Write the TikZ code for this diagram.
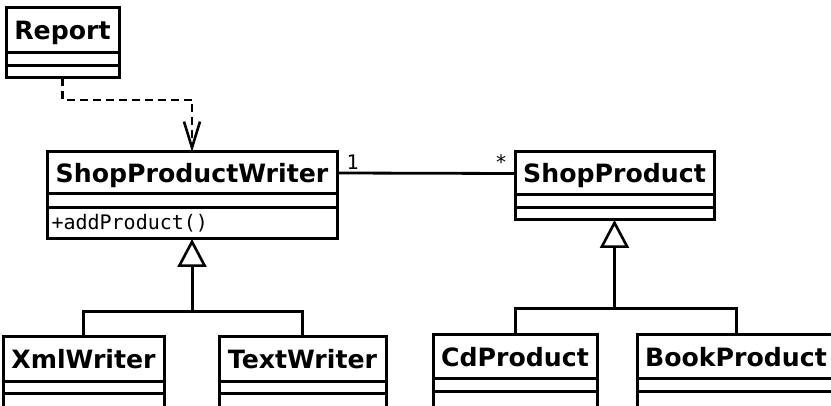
\documentclass[tikz,border=0pt]{standalone}
\usepackage{fontspec}
\setmainfont{DejaVu Sans}
\setmonofont{DejaVu Sans Mono}
\usetikzlibrary{positioning,arrows.meta}
\tikzset{
  cls/.style={draw, line width=3pt, outer sep=0pt, inner sep=0pt,
    text height=18.4pt, text depth=0pt,
    font=\fontsize{25.2}{27}\selectfont\bfseries},
  comp/.style={draw, line width=3pt, outer sep=0pt, inner sep=0pt},
  mono/.style={font=\ttfamily\fontsize{20}{22}\selectfont},
  assoc/.style={line width=2.8pt},
  dep/.style={line width=2.8pt, dash pattern=on 8pt off 5pt,
    -{Straight Barb[length=26pt, width=16pt, line width=2.6pt]}},
  inh/.style={line width=3pt,
    -{Triangle[open, length=28pt, width=29pt, fill=white, line width=2.6pt]}}
}
\begin{document}
\begin{tikzpicture}[x=1pt, y=-1pt]
  \useasboundingbox (0,0) rectangle (831,406);
  \clip (0,0) rectangle (831,406);
  %% Report
  \node[cls, minimum width=113pt, minimum height=45pt] (report) at (62.5,30.5) {Report};
  \node[comp, minimum width=113pt, minimum height=13pt, below=0pt of report] (report-a) {};
  \node[comp, minimum width=113pt, minimum height=12pt, below=0pt of report-a] (report-o) {};
  %% ShopProductWriter
  \node[cls, minimum width=290pt, minimum height=42pt] (spw) at (192,173) {ShopProductWriter};
  \node[comp, minimum width=290pt, minimum height=14pt, below=0pt of spw] (spw-a) {};
  \node[comp, mono, text width=281pt, inner xsep=4.5pt, align=left, minimum height=31pt,
    below=0pt of spw-a] (spw-o) {+addProduct()};
  %% ShopProduct
  \node[cls, minimum width=199pt, minimum height=43pt] (sp) at (614.5,173.5) {ShopProduct};
  \node[comp, minimum width=199pt, minimum height=13pt, below=0pt of sp] (sp-a) {};
  \node[comp, minimum width=199pt, minimum height=12pt, below=0pt of sp-a] (sp-o) {};
  %% writers
  \node[cls, minimum width=161pt, minimum height=45pt] (xml) at (83.5,359.5) {XmlWriter};
  \node[comp, minimum width=161pt, minimum height=12pt, below=0pt of xml] (xml-a) {};
  \node[comp, minimum width=161pt, minimum height=14pt, below=0pt of xml-a] (xml-o) {};
  \node[cls, minimum width=167pt, minimum height=45pt] (text) at (302.5,359.5) {TextWriter};
  \node[comp, minimum width=167pt, minimum height=12pt, below=0pt of text] (text-a) {};
  \node[comp, minimum width=167pt, minimum height=14pt, below=0pt of text-a] (text-o) {};
  %% products
  \node[cls, minimum width=164pt, minimum height=44pt] (cd) at (515,357) {CdProduct};
  \node[comp, minimum width=164pt, minimum height=13pt, below=0pt of cd] (cd-a) {};
  \node[comp, minimum width=164pt, minimum height=16pt, below=0pt of cd-a] (cd-o) {};
  \node[cls, minimum width=198pt, minimum height=44pt] (book) at (736,357) {BookProduct};
  \node[comp, minimum width=198pt, minimum height=13pt, below=0pt of book] (book-a) {};
  \node[comp, minimum width=198pt, minimum height=16pt, below=0pt of book-a] (book-o) {};
  %% dependency
  \draw[dep] (report-o.south) -- ++(0,22) -| (spw.north);
  %% association
  \draw[assoc] (spw.east) -- (sp.west)
    node[mono, pos=0, anchor=south west, xshift=5pt, yshift=-1pt] {1}
    node[mono, pos=1, anchor=south east, xshift=-3pt, yshift=-1pt] {*};
  %% generalisation
  \coordinate (wjoin) at (192,312);
  \coordinate (pjoin) at (614.5,309);
  \draw[line width=3pt] (xml.north) |- (wjoin) -| (text.north);
  \draw[inh] (wjoin) -- (spw-o.south);
  \draw[line width=3pt] (cd.north) |- (pjoin) -| (book.north);
  \draw[inh] (pjoin) -- (sp-o.south);
\end{tikzpicture}
\end{document}
